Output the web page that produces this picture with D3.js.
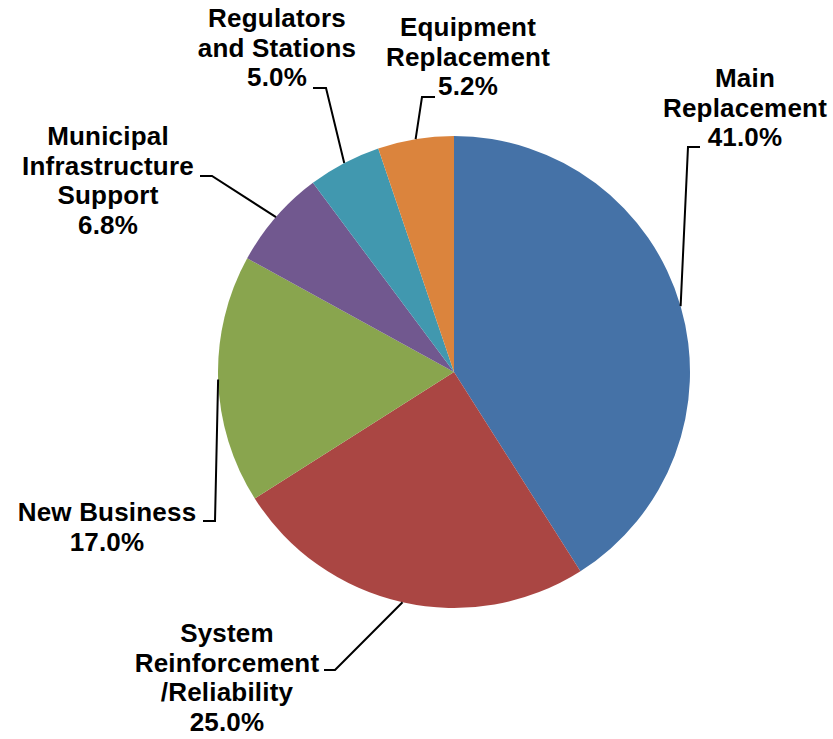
<!DOCTYPE html>
<html>
<head>
<meta charset="utf-8">
<script src="https://cdn.jsdelivr.net/npm/d3@7"></script>
<style>
  html, body { margin: 0; padding: 0; background: #fff; }
  svg { display: block; }
  .lbl { font-family: "Liberation Sans", Arial, sans-serif; font-weight: bold; font-size: 26px; letter-spacing: 0.2px; fill: #000; }
</style>
</head>
<body>
<svg id="chart" width="833" height="739"></svg>
<script>
// Capital spending share by program
const categories = [
  "Main Replacement",
  "System Reinforcement/Reliability",
  "New Business",
  "Municipal Infrastructure Support",
  "Regulators and Stations",
  "Equipment Replacement"
];
const shares = [41.0, 25.0, 17.0, 6.8, 5.0, 5.2];
// Multi-line label text for each slice
const labelLines = [
  ["Main", "Replacement"],
  ["System", "Reinforcement", "/Reliability"],
  ["New Business"],
  ["Municipal", "Infrastructure", "Support"],
  ["Regulators", "and Stations"],
  ["Equipment", "Replacement"]
];
const colors = ["#4572A7", "#AA4643", "#89A54E", "#71588F", "#4198AF", "#DB843D"];

// Label placement: text centre x, first baseline y, leader elbow and stub end
const labelLayout = [
  { x: 745, y: 87,  elbow: [688, 147], end: [700, 147] },
  { x: 227, y: 642, elbow: [335, 670], end: [324, 670] },
  { x: 107, y: 521, elbow: [215, 521], end: [203, 521] },
  { x: 108, y: 145, elbow: [212, 176], end: [200, 176] },
  { x: 277, y: 27,  elbow: [326, 88],  end: [313, 88] },
  { x: 468, y: 36,  elbow: [422, 97],  end: [435, 97] }
];

const cx = 454, cy = 372, radius = 236, lineGap = 29.7;
const svg = d3.select("#chart");
const g = svg.append("g").attr("transform", `translate(${cx},${cy})`);

const data = categories.map((c, i) => ({ name: c, value: shares[i], i }));
const pie = d3.pie().value(d => d.value).sort(null);
const arcs = pie(data);
const arc = d3.arc().innerRadius(0).outerRadius(radius);
const rim = d3.arc().innerRadius(radius).outerRadius(radius);

g.selectAll("path.slice")
  .data(arcs)
  .join("path")
  .attr("class", "slice")
  .attr("d", arc)
  .attr("fill", d => colors[d.data.i]);

// Leader lines from each slice's rim midpoint to its label
const fmt = d3.format(".1f");
arcs.forEach(a => {
  const L = labelLayout[a.data.i];
  const [px, py] = rim.centroid(a);
  const pts = [[px + cx, py + cy], L.elbow, L.end];
  svg.append("path")
    .attr("d", d3.line()(pts))
    .attr("fill", "none")
    .attr("stroke", "#000")
    .attr("stroke-width", 2);

  const lines = labelLines[a.data.i].concat([fmt(a.data.value) + "%"]);
  const t = svg.append("text")
    .attr("class", "lbl")
    .attr("text-anchor", "middle")
    .attr("x", L.x)
    .attr("y", L.y);
  lines.forEach((s, k) => {
    t.append("tspan")
      .attr("x", L.x)
      .attr("dy", k === 0 ? 0 : lineGap)
      .text(s);
  });
});
</script>
</body>
</html>
